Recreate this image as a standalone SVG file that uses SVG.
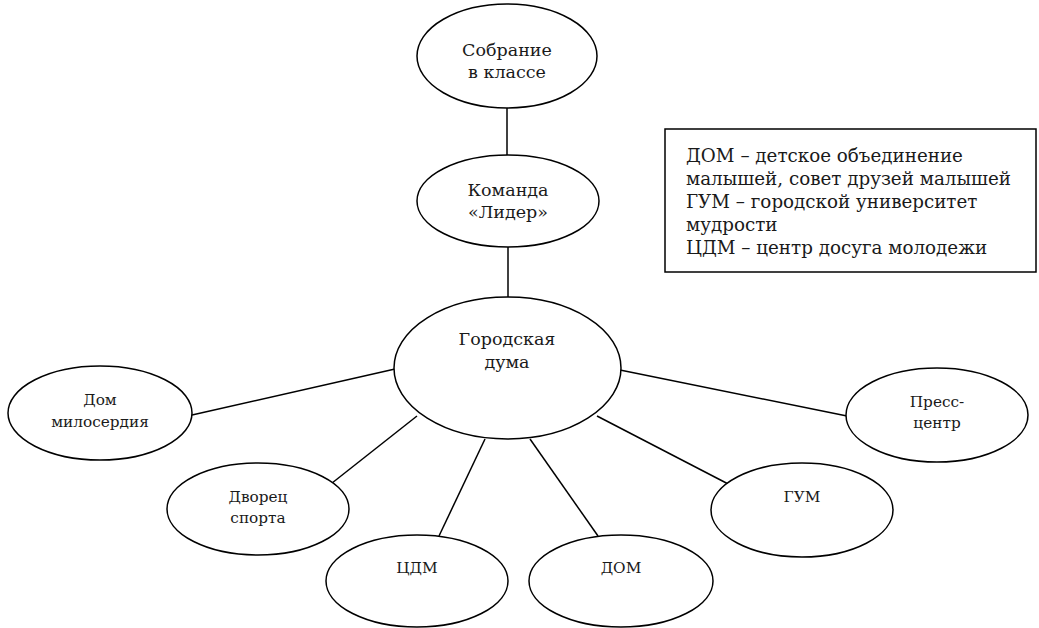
<svg xmlns="http://www.w3.org/2000/svg" width="1039" height="628" viewBox="0 0 1039 628">
<style>
.n{fill:#fff;stroke:#000;stroke-width:1.5}
.c{stroke:#000;stroke-width:1.5;fill:none}
.t{font-size:17.5px;text-anchor:middle}
.s{font-size:15.3px;text-anchor:middle}
.l{font-size:18.3px}
</style>
<rect width="1039" height="628" fill="#fff"/>
<g id="connectors">
<line class="c" x1="507" y1="108" x2="507" y2="155"/>
<line class="c" x1="508" y1="247" x2="508" y2="297"/>
<line class="c" x1="192" y1="415" x2="395" y2="369"/>
<line class="c" x1="417" y1="416" x2="327" y2="487"/>
<line class="c" x1="485" y1="439" x2="439" y2="536"/>
<line class="c" x1="530" y1="439" x2="598" y2="536"/>
<line class="c" x1="597" y1="416" x2="734" y2="487"/>
<line class="c" x1="620" y1="370" x2="847" y2="416"/>
</g>
<g font-family="DejaVu Serif, serif" fill="#1a1a1a">
<g id="sobranie">
<ellipse class="n" cx="507" cy="56" rx="90" ry="52"/>
<text class="t" x="507" y="56">Собрание</text>
<text class="t" x="507" y="78">в классе</text>
</g>
<g id="komanda">
<ellipse class="n" cx="508" cy="201" rx="91" ry="46"/>
<text class="t" x="508" y="196">Команда</text>
<text class="t" x="508" y="218">«Лидер»</text>
</g>
<g id="duma">
<ellipse class="n" cx="507.5" cy="368" rx="113.5" ry="71"/>
<text class="t" x="507" y="345">Городская</text>
<text class="t" x="507" y="368">дума</text>
</g>
<g id="miloserdie">
<ellipse class="n" cx="100" cy="413" rx="92" ry="47"/>
<text class="s" x="100" y="405">Дом</text>
<text class="s" x="100" y="427">милосердия</text>
</g>
<g id="dvorets">
<ellipse class="n" cx="258" cy="509" rx="91" ry="46"/>
<text class="s" x="258" y="502">Дворец</text>
<text class="s" x="258" y="523">спорта</text>
</g>
<g id="tsdm">
<ellipse class="n" cx="417" cy="581" rx="91" ry="46"/>
<text class="s" x="417" y="573">ЦДМ</text>
</g>
<g id="dom">
<ellipse class="n" cx="621" cy="581" rx="92" ry="46"/>
<text class="s" x="621" y="573">ДОМ</text>
</g>
<g id="gum">
<ellipse class="n" cx="802" cy="510" rx="91" ry="47"/>
<text class="s" x="802" y="502">ГУМ</text>
</g>
<g id="presscentr">
<ellipse class="n" cx="937" cy="415" rx="91" ry="47"/>
<text class="s" x="937" y="407">Пресс-</text>
<text class="s" x="937" y="428">центр</text>
</g>
<g id="legend">
<rect x="665" y="129" width="371" height="143" fill="#fff" stroke="#000" stroke-width="1.5"/>
<text class="l" x="686" y="162">ДОМ – детское объединение</text>
<text class="l" x="686" y="185">малышей, совет друзей малышей</text>
<text class="l" x="686" y="208">ГУМ – городской университет</text>
<text class="l" x="686" y="231">мудрости</text>
<text class="l" x="686" y="254">ЦДМ – центр досуга молодежи</text>
</g>
</g>
</svg>
